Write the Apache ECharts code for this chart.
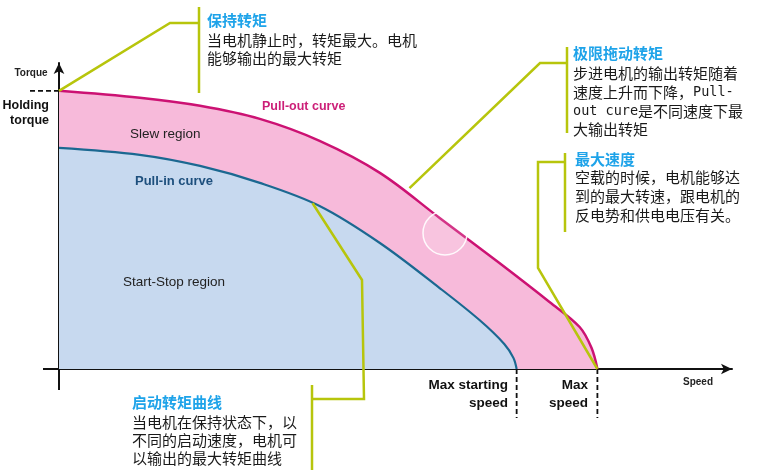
<!DOCTYPE html>
<html>
<head>
<meta charset="utf-8">
<script src="https://cdn.jsdelivr.net/npm/echarts@6/dist/echarts.min.js"></script>
<style>
  html, body { margin: 0; padding: 0; background: #fff; }
  #main { width: 759px; height: 475px; }
</style>
</head>
<body>
<div id="main"></div>
<script>
var chart_dom = document.getElementById("main");
var chart = echarts.init(chart_dom);

// 牵出曲线 (pull-out)，速度 / 转矩 (holding torque = 100)
var speed_out  = [0, 15.0, 26.2, 37.3, 48.4, 59.6, 70.7, 81.8, 91.1, 96.7, 98.9, 100];
var torque_out = [100, 97.5, 94.6, 89.9, 82.0, 70.5, 54.3, 38.1, 24.1, 15.1, 7.6, 0];
// 牵入曲线 (pull-in)
var speed_in  = [0, 15.0, 26.2, 37.3, 48.4, 59.6, 70.7, 78.1, 82.7, 84.4, 85];
var torque_in = [79.5, 77.0, 73.0, 66.9, 58.6, 45.3, 29.1, 17.6, 9.0, 4.0, 0];

var holding_torque = 100;
var max_start_speed = 85;
var max_speed = 100;

var cn_font = "'Noto Sans CJK SC', sans-serif";
var en_font = "'Liberation Sans', Arial, sans-serif";
var mono_font = "'DejaVu Sans Mono', monospace";
var callout_color = '#b7c50c';
var title_color = '#1ea3e9';

function pairs(xs, ys) {
    var out = [];
    for (var i = 0; i < xs.length; i++) out.push([xs[i], ys[i]]);
    return out;
}

var option = {
    animation: false,
    backgroundColor: '#ffffff',
    grid: { left: 59, right: 27, top: 63, bottom: 106 },
    xAxis: {
        type: 'value', min: 0, max: 125,
        axisLine: { show: true, symbol: ['none', 'arrow'], symbolSize: [8, 11], lineStyle: { color: '#111', width: 2 } },
        axisTick: { show: false }, axisLabel: { show: false }, splitLine: { show: false }
    },
    yAxis: {
        type: 'value', min: 0, max: 110,
        axisLine: { show: true, symbol: ['none', 'arrow'], symbolSize: [8, 11], lineStyle: { color: '#111', width: 2 } },
        axisTick: { show: false }, axisLabel: { show: false }, splitLine: { show: false }
    },
    series: [
        {
            name: 'Pull-out curve', type: 'line', data: pairs(speed_out, torque_out),
            smooth: 0.35, showSymbol: false, z: 2,
            lineStyle: { color: '#cc1273', width: 2.5 },
            areaStyle: { color: '#f7bada', opacity: 1 }
        },
        {
            name: 'Pull-in curve', type: 'line', data: pairs(speed_in, torque_in),
            smooth: 0.35, showSymbol: false, z: 3,
            lineStyle: { color: '#1b6891', width: 2.2 },
            areaStyle: { color: '#c7d9ef', opacity: 1 }
        }
    ]
};
chart.setOption(option);

// 像素位置
var p_hold  = chart.convertToPixel({ gridIndex: 0 }, [0, holding_torque]);
var p_start = chart.convertToPixel({ gridIndex: 0 }, [max_start_speed, 0]);
var p_max   = chart.convertToPixel({ gridIndex: 0 }, [max_speed, 0]);
var p_out   = chart.convertToPixel({ gridIndex: 0 }, [65.1, 65]);
var p_in    = chart.convertToPixel({ gridIndex: 0 }, [47.1, 59.6]);
var p_org   = chart.convertToPixel({ gridIndex: 0 }, [0, 0]);

function txt(x, y, s, style) {
    var st = Object.assign({ x: x, y: y, text: s, verticalAlign: 'middle' }, style);
    return { type: 'text', z: 20, style: st };
}
function line(pts, color, width, dash) {
    return { type: 'polyline', z: 15, shape: { points: pts },
             style: { stroke: color, lineWidth: width, fill: null, lineDash: dash || null } };
}
function cn_title(x, y, s) {
    return txt(x, y, s, { font: 'bold 15px ' + cn_font, fill: title_color });
}
function cn_body(x, y, s) {
    return txt(x, y, s, {
        font: '15px ' + cn_font, fill: '#1a1a1a',
        rich: { m: { fontFamily: mono_font, fontSize: 13.5, fill: '#1a1a1a' } }
    });
}

var graphics = [
    // 坐标轴延伸
    line([[43, p_org[1]], [p_org[0], p_org[1]]], '#111', 2),
    line([[p_org[0], p_org[1]], [p_org[0], 390]], '#111', 2),
    // 虚线
    line([[30, p_hold[1]], [p_hold[0], p_hold[1]]], '#111', 1.8, [5, 3]),
    line([[p_start[0], p_start[1]], [p_start[0], 418]], '#111', 1.8, [5, 3]),
    line([[p_max[0], p_max[1]], [p_max[0], 418]], '#111', 1.8, [5, 3]),
    // 白圈
    { type: 'circle', z: 12, shape: { cx: 445, cy: 233, r: 22 },
      style: { fill: 'rgba(255,255,255,0.15)', stroke: 'rgba(255,255,255,0.9)', lineWidth: 1.5 } },

    // 轴标签
    txt(31, 73, 'Torque', { font: 'bold 10px ' + en_font, fill: '#222', align: 'center' }),
    txt(49, 106, 'Holding', { font: 'bold 12.5px ' + en_font, fill: '#111', align: 'right' }),
    txt(49, 121, 'torque', { font: 'bold 12.5px ' + en_font, fill: '#111', align: 'right' }),
    txt(698, 382, 'Speed', { font: 'bold 10px ' + en_font, fill: '#222', align: 'center' }),
    txt(508, 385, 'Max starting', { font: 'bold 13.5px ' + en_font, fill: '#111', align: 'right' }),
    txt(508, 403, 'speed', { font: 'bold 13.5px ' + en_font, fill: '#111', align: 'right' }),
    txt(588, 385, 'Max', { font: 'bold 13.5px ' + en_font, fill: '#111', align: 'right' }),
    txt(588, 403, 'speed', { font: 'bold 13.5px ' + en_font, fill: '#111', align: 'right' }),

    // 区域标签
    txt(130, 134, 'Slew region', { font: '13.5px ' + en_font, fill: '#222' }),
    txt(135, 181, 'Pull-in curve', { font: 'bold 13px ' + en_font, fill: '#1d4f7d' }),
    txt(123, 282, 'Start-Stop region', { font: '13.5px ' + en_font, fill: '#222' }),
    txt(262, 107, 'Pull-out curve', { font: 'bold 12.5px ' + en_font, fill: '#cc1f78' }),

    // 保持转矩
    line([[p_hold[0], p_hold[1]], [170, 23], [199, 23]], callout_color, 2.5),
    line([[199, 7], [199, 93]], callout_color, 2.5),
    cn_title(207, 20, '保持转矩'),
    cn_body(207, 40, '当电机静止时，转矩最大。电机'),
    cn_body(207, 58, '能够输出的最大转矩'),

    // 极限拖动转矩
    line([[p_out[0], p_out[1]], [540, 63], [567, 63]], callout_color, 2.5),
    line([[567, 47], [567, 133]], callout_color, 2.5),
    cn_title(573, 53, '极限拖动转矩'),
    cn_body(573, 73, '步进电机的输出转矩随着'),
    cn_body(573, 92, '速度上升而下降，{m|Pull-}'),
    cn_body(573, 111, '{m|out cure}是不同速度下最'),
    cn_body(573, 129, '大输出转矩'),

    // 最大速度
    line([[p_max[0], p_max[1]], [538, 268], [538, 162], [565, 162]], callout_color, 2.5),
    line([[565, 153], [565, 232]], callout_color, 2.5),
    cn_title(575, 159, '最大速度'),
    cn_body(575, 177, '空载的时候，电机能够达'),
    cn_body(575, 196, '到的最大转速，跟电机的'),
    cn_body(575, 215, '反电势和供电电压有关。'),

    // 启动转矩曲线
    line([[p_in[0], p_in[1]], [362, 280], [364, 399], [312, 399]], callout_color, 2.5),
    line([[312, 385], [312, 470]], callout_color, 2.5),
    cn_title(132, 402, '启动转矩曲线'),
    cn_body(132, 422, '当电机在保持状态下，以'),
    cn_body(132, 440, '不同的启动速度，电机可'),
    cn_body(132, 458, '以输出的最大转矩曲线')
];

chart.setOption({ graphic: graphics });
</script>
</body>
</html>
